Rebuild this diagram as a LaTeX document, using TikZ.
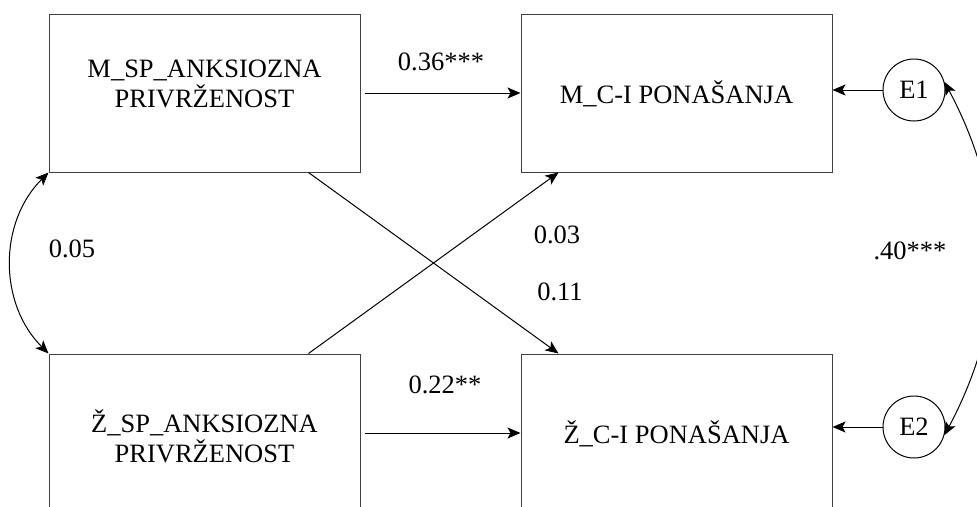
\documentclass[tikz,border=0pt]{standalone}
\usepackage{fontspec}
\setmainfont{Liberation Serif}
\usetikzlibrary{positioning,arrows.meta}

\tikzset{
  box/.style={draw=black!75, minimum width=311pt, minimum height=158pt, inner sep=0pt},
  err/.style={draw, circle, minimum size=62pt, inner sep=0pt},
  txt/.style={align=center},
  coef/.style={anchor=base},
  regline/.style={-{Stealth[length=13pt,width=11pt,inset=3pt]}},
  covline/.style={{Stealth[length=13pt,width=11pt,inset=3pt]}-{Stealth[length=13pt,width=11pt,inset=3pt]}},
}

\begin{document}
\begin{tikzpicture}[x=1pt, y=-1pt, font=\fontsize{26.5pt}{30pt}\selectfont, line width=1pt]
  \clip (0,0) rectangle (977,506);

  % predictors and outcomes
  \node[box] (msp) at (204.5,93) {};
  \node[box, right=160pt of msp] (mcp) {};
  \node[box, below=181pt of msp] (zsp) {};
  \node[box, right=160pt of zsp] (zcp) {};

  \node[txt] (msptxt) at ([yshift=9pt]msp.center) {M\_SP\_ANKSIOZNA\\PRIVRŽENOST};
  \node[txt] (zsptxt) at ([yshift=-3pt]zsp.center) {Ž\_SP\_ANKSIOZNA\\PRIVRŽENOST};
  \node[txt, anchor=base] (mcptxt) at ([yshift=-10pt]mcp.center) {M\_C-I PONAŠANJA};
  \node[txt, anchor=base] (zcptxt) at ([yshift=-10pt]zcp.center) {Ž\_C-I PONAŠANJA};

  % residuals
  \node[err, right=50pt of mcp, yshift=3pt] (e1) {E1};
  \node[err, right=50pt of zcp, yshift=6pt] (e2) {E2};

  % paths
  \draw[regline, shorten <=4pt] (msp) -- (mcp);
  \draw[regline, shorten <=4pt] (zsp) -- (zcp);
  \draw[regline] ([xshift=-52pt]msp.south east) -- ([xshift=38pt]zcp.north west);
  \draw[regline] ([xshift=-52pt]zsp.north east) -- ([xshift=38pt]mcp.south west);
  \draw[regline] (e1) -- (mcp.east |- e1);
  \draw[regline] (e2) -- (zcp.east |- e2);

  % covariances
  \draw[covline] (msp.south west) .. controls +(-50,50) and +(-50,-50) .. (zsp.north west);
  \draw[covline] (e1.15) .. controls +(64,120) and +(64,-120) .. (e2.-15);

  % coefficients
  \node[coef] (b1) at (441,70) {0.36***};
  \node[coef] (b2) at (445,393) {0.22**};
  \node[coef] (b3) at (557,243) {0.03};
  \node[coef] (b4) at (560,300) {0.11};
  \node[coef] (r1) at (72,257) {0.05};
  \node[coef] (r2) at (910,259) {.40***};
\end{tikzpicture}
\end{document}
